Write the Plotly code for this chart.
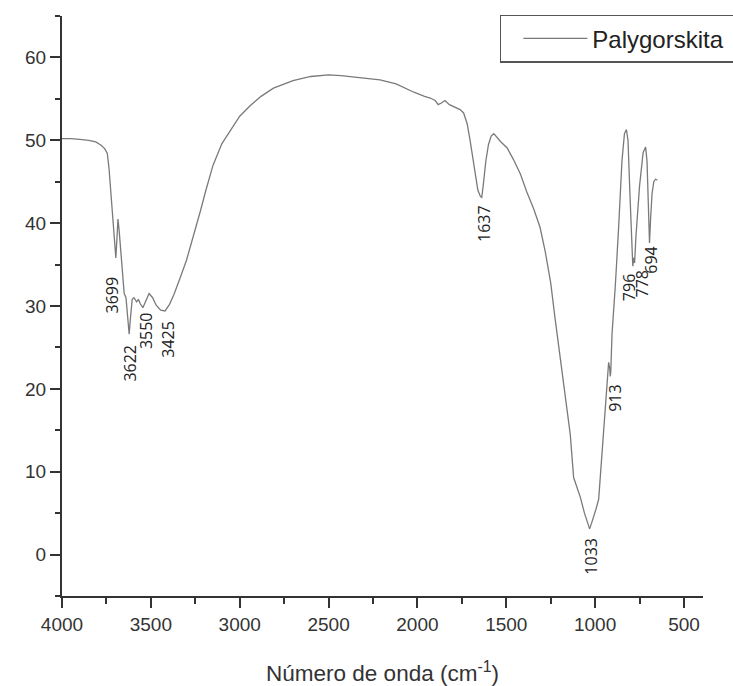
import plotly.graph_objects as go

# FTIR spectrum of Palygorskita (wavenumber cm-1, transmittance %)
wavenumber = [4000, 3950, 3900, 3850, 3810, 3780, 3760, 3745, 3735, 3720, 3705, 3697,
              3690, 3685, 3678, 3665, 3650, 3640, 3630, 3622, 3615, 3605, 3595, 3580,
              3570, 3560, 3545, 3530, 3510, 3490, 3470, 3445, 3420, 3395, 3370, 3335,
              3300, 3280, 3250, 3222, 3190, 3150, 3100, 3050, 3000, 2940, 2880, 2810,
              2700, 2600, 2500, 2430, 2330, 2210, 2120, 2020, 1960, 1928, 1900, 1883,
              1865, 1845, 1820, 1790, 1760, 1740, 1720, 1703, 1690, 1675, 1660, 1645,
              1638, 1630, 1615, 1600, 1585, 1570, 1550, 1530, 1496, 1460, 1420, 1385,
              1347, 1310, 1281, 1250, 1226, 1200, 1177, 1158, 1140, 1121, 1100, 1083,
              1060, 1036, 1031, 1020, 1008, 995, 980, 961, 943, 930, 924, 918,
              915, 912, 905, 886, 873, 868, 849, 835, 824, 815, 805, 795,
              788, 783, 778, 770, 750, 730, 716, 708, 700, 694, 688, 680,
              670, 660, 650]
transmittance = [50.2, 50.2, 50.1, 50.0, 49.8, 49.4, 49.0, 48.4, 46.5, 42.0, 37.5, 35.8,
                 38.5, 40.5, 39.0, 35.0, 31.5, 31.0, 29.0, 26.6, 28.5, 30.8, 31.0, 30.5,
                 30.8, 30.3, 29.8, 30.6, 31.5, 31.0, 30.1, 29.5, 29.4, 30.2, 31.4, 33.4,
                 35.5, 37.0, 39.2, 41.4, 44.0, 47.0, 49.6, 51.2, 52.9, 54.2, 55.3, 56.3,
                 57.2, 57.7, 57.9, 57.8, 57.6, 57.3, 56.8, 55.8, 55.3, 55.1, 54.8, 54.3,
                 54.5, 54.8, 54.3, 54.0, 53.7, 53.3, 52.0, 49.9, 48.0, 45.9, 44.0, 43.2,
                 43.1, 44.5, 47.5, 49.5, 50.5, 50.8, 50.3, 49.8, 49.1, 47.7, 45.9, 43.8,
                 41.8, 39.5, 36.6, 32.8, 28.6, 24.5, 20.6, 17.5, 14.5, 9.3, 8.0, 6.9,
                 5.0, 3.3, 3.1, 3.8, 4.5, 5.5, 6.7, 12.5, 18.6, 21.8, 23.2, 22.5,
                 21.5, 22.0, 26.6, 32.6, 36.6, 39.4, 47.5, 50.8, 51.3, 50.0, 44.0, 38.0,
                 34.8, 35.8, 35.2, 38.5, 44.5, 48.5, 49.2, 47.5, 42.0, 37.6, 40.5, 43.5,
                 45.0, 45.3, 45.2]

series_name = "Palygorskita"
peak_labels = ["3699", "3622", "3550", "3425", "1637", "1033", "913", "796", "778", "694"]
# label anchor positions (layout, in axis units)
label_x = [3717, 3615, 3526, 3400, 1626, 1021, 889, 813, 737, 684]
label_y = [31.3, 23.1, 27.0, 26.0, 40.0, -0.2, 18.9, 32.2, 32.7, 35.5]

x_tickvals = [4000, 3500, 3000, 2500, 2000, 1500, 1000, 500]
y_tickvals = [0, 10, 20, 30, 40, 50, 60]

AX = "#333333"
fig = go.Figure()
fig.add_trace(go.Scatter(x=wavenumber, y=transmittance, mode="lines",
                         name=series_name + "\u00a0",
                         line=dict(color="#7a7a7a", width=1.3), showlegend=True))

for t, lx, ly in zip(peak_labels, label_x, label_y):
    fig.add_annotation(x=lx, y=ly, xref="x", yref="y", text=t, showarrow=False,
                       textangle=-90, xanchor="center", yanchor="middle",
                       font=dict(family="Open Sans", size=16, color="#222222"))

fig.update_layout(
    width=733, height=686,
    margin=dict(l=62, r=30, t=16, b=90, autoexpand=False),
    paper_bgcolor="white", plot_bgcolor="white",
    font=dict(family="Liberation Sans, Arial", color=AX),
    showlegend=True,
    legend=dict(x=0.683, y=1.002, xanchor="left", yanchor="top",
                bordercolor="#555555", borderwidth=1.5, bgcolor="white",
                font=dict(family="Liberation Sans, Arial", size=24, color="#222222"),
                itemwidth=64, indentation=17),
    xaxis=dict(range=[4000, 393], tickmode="array", tickvals=x_tickvals,
               showline=True, linecolor=AX, linewidth=2, ticks="outside",
               ticklen=10, tickwidth=2, tickcolor=AX, showgrid=False, zeroline=False,
               tickfont=dict(size=19, color=AX),
               minor=dict(dtick=250, tick0=0, ticks="outside", ticklen=6, tickwidth=2,
                          tickcolor=AX, showgrid=False),
               title=dict(text="Número de onda (cm<sup>-1</sup>)",
                          font=dict(size=22.5, color=AX), standoff=34)),
    yaxis=dict(range=[-5, 65], tickmode="array", tickvals=y_tickvals,
               showline=True, linecolor=AX, linewidth=2, ticks="outside",
               ticklen=10, tickwidth=2, tickcolor=AX, showgrid=False, zeroline=False,
               tickfont=dict(size=19, color=AX),
               minor=dict(dtick=5, tick0=0, ticks="outside", ticklen=5, tickwidth=2,
                          tickcolor=AX, showgrid=False)),
)

fig.write_html("out.html")
